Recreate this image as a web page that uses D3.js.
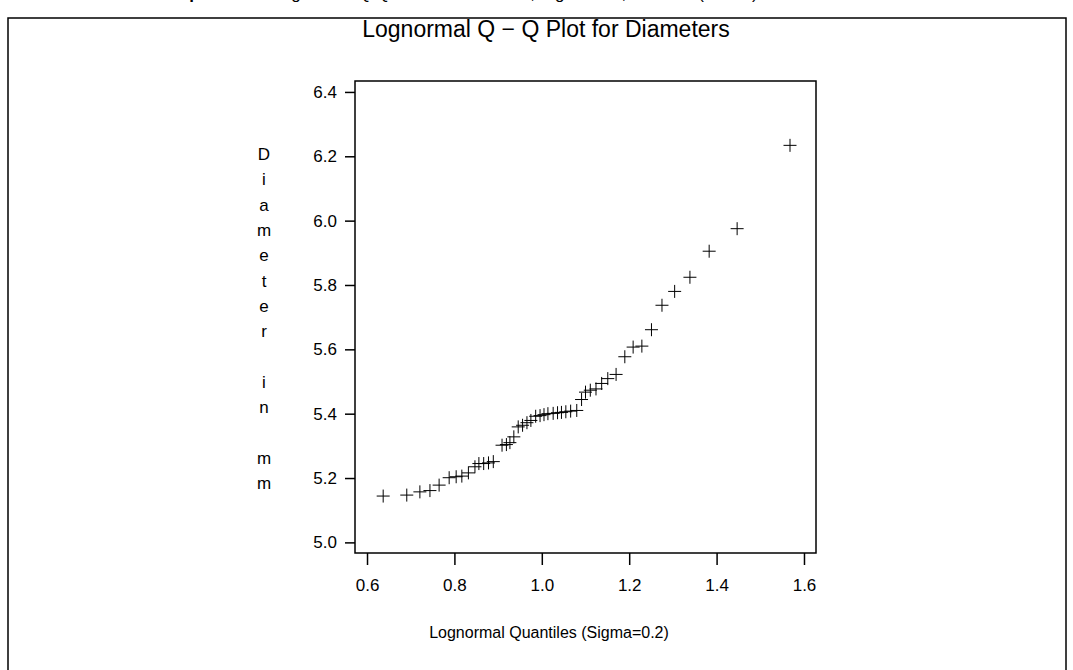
<!DOCTYPE html>
<html>
<head>
<meta charset="utf-8">
<script src="https://cdn.jsdelivr.net/npm/d3@7.9.0/dist/d3.min.js"></script>
<style>
  body { margin: 0; background: #fff; }
  svg { display: block; font-family: "Liberation Sans", Arial, sans-serif; }
</style>
</head>
<body>
<div id="chart"></div>
<script>
// lognormal quantiles (sigma = 0.2) and the sorted diameters
const quantiles = [
  0.637, 0.691, 0.721, 0.744, 0.765, 0.788, 0.804, 0.817, 0.832, 0.847,
  0.856, 0.867, 0.878, 0.889, 0.909, 0.919, 0.927, 0.936, 0.946, 0.956,
  0.966, 0.975, 0.986, 0.996, 1.005, 1.014, 1.026, 1.036, 1.045, 1.055,
  1.066, 1.080, 1.091, 1.100, 1.111, 1.124, 1.137, 1.151, 1.170, 1.190,
  1.209, 1.229, 1.251, 1.275, 1.304, 1.339, 1.383, 1.447, 1.568
];
const diameters = [
  5.144, 5.147, 5.157, 5.161, 5.178, 5.201, 5.204, 5.206, 5.216, 5.235,
  5.245, 5.245, 5.247, 5.251, 5.302, 5.304, 5.310, 5.328, 5.359, 5.364,
  5.372, 5.379, 5.392, 5.394, 5.397, 5.400, 5.401, 5.403, 5.404, 5.406,
  5.408, 5.410, 5.444, 5.467, 5.473, 5.477, 5.494, 5.509, 5.522, 5.577,
  5.607, 5.610, 5.661, 5.737, 5.780, 5.824, 5.905, 5.975, 6.234
];
const xTicks = [0.6, 0.8, 1.0, 1.2, 1.4, 1.6];
const yTicks = [5.0, 5.2, 5.4, 5.6, 5.8, 6.0, 6.2, 6.4];
const yLabel = 'Diameter in mm';

const points = quantiles.map((q, i) => ({ q, d: diameters[i] }));

const width = 1073, height = 670;
const plotLeft = 355, plotRight = 816, plotTop = 81, plotBottom = 553;

const svg = d3.select('#chart').append('svg')
  .attr('width', width)
  .attr('height', height);

// caption of the page above, mostly cut off
svg.append('text')
  .attr('x', 160).attr('y', -1)
  .attr('font-size', 17)
  .html('<tspan font-weight="bold">Output 4.31.1</tspan> Lognormal Q-Q Plot for Diameters, Sigma=0.2, Theta=0 (Partial)');

// outer box
svg.append('rect')
  .attr('x', 8).attr('y', 18)
  .attr('width', 1058).attr('height', 700)
  .attr('fill', 'none').attr('stroke', '#000').attr('stroke-width', 1.5);

svg.append('text')
  .attr('x', 546).attr('y', 37)
  .attr('text-anchor', 'middle')
  .attr('font-size', 23)
  .text('Lognormal Q \u2212 Q Plot for Diameters');

const x = d3.scaleLinear().domain([0.5725, 1.6275]).range([plotLeft, plotRight]);
const y = d3.scaleLinear().domain([4.967, 6.434]).range([plotBottom, plotTop]);

const xAxis = svg.append('g')
  .attr('transform', `translate(0,${plotBottom})`)
  .call(d3.axisBottom(x).tickValues(xTicks).tickFormat(d3.format('.1f'))
    .tickSize(12).tickPadding(14));
const yAxis = svg.append('g')
  .attr('transform', `translate(${plotLeft},0)`)
  .call(d3.axisLeft(y).tickValues(yTicks).tickFormat(d3.format('.1f'))
    .tickSize(10).tickPadding(8));

[xAxis, yAxis].forEach((g) => {
  g.select('.domain').remove();
  g.selectAll('line').attr('stroke', '#000').attr('stroke-width', 1.5);
  g.selectAll('text')
    .attr('font-family', '"Liberation Sans", Arial, sans-serif')
    .attr('font-size', 17).attr('fill', '#000');
});

svg.append('rect')
  .attr('x', plotLeft).attr('y', plotTop)
  .attr('width', plotRight - plotLeft).attr('height', plotBottom - plotTop)
  .attr('fill', 'none').attr('stroke', '#000').attr('stroke-width', 1.5);

// plus markers
const s = 6.5;
svg.append('g')
  .selectAll('path')
  .data(points)
  .join('path')
  .attr('d', (p) => {
    const cx = x(p.q), cy = y(p.d);
    return `M${cx - s},${cy}H${cx + s}M${cx},${cy - s}V${cy + s}`;
  })
  .attr('stroke', '#000')
  .attr('stroke-width', 1)
  .attr('fill', 'none');

// stacked y label
svg.append('g')
  .selectAll('text')
  .data(yLabel.split(''))
  .join('text')
  .attr('x', 264)
  .attr('y', (c, i) => 160 + i * 25.3)
  .attr('text-anchor', 'middle')
  .attr('font-size', 17)
  .text((c) => c);

svg.append('text')
  .attr('x', 549).attr('y', 638)
  .attr('text-anchor', 'middle')
  .attr('font-size', 16)
  .text('Lognormal Quantiles (Sigma=0.2)');
</script>
</body>
</html>
